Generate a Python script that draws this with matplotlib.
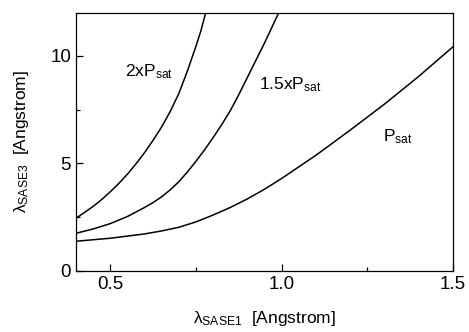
import matplotlib
matplotlib.use("Agg")
import matplotlib.pyplot as plt
from matplotlib.ticker import MultipleLocator

plt.rcParams['font.family'] = ['Liberation Sans', 'DejaVu Sans']
plt.rcParams['mathtext.fontset'] = 'custom'
plt.rcParams['mathtext.rm'] = 'Liberation Sans'
plt.rcParams['mathtext.it'] = 'Liberation Sans:italic'

# curves (lambda_SASE1 -> lambda_SASE3, Angstrom)
x_2p = [0.40, 0.425, 0.45, 0.475, 0.50, 0.525, 0.55, 0.575, 0.60, 0.625,
        0.65, 0.675, 0.70, 0.725, 0.75, 0.765, 0.78]
y_2p = [2.45, 2.72, 3.00, 3.32, 3.68, 4.07, 4.50, 4.98, 5.50, 6.08,
        6.70, 7.42, 8.25, 9.30, 10.45, 11.2, 12.1]

x_15p = [0.40, 0.45, 0.50, 0.55, 0.60, 0.625, 0.65, 0.675, 0.70, 0.725, 0.75,
         0.775, 0.80, 0.825, 0.85, 0.875, 0.90, 0.925, 0.95, 0.975, 1.00]
y_15p = [1.75, 1.95, 2.20, 2.53, 2.95, 3.18, 3.45, 3.77, 4.15, 4.60, 5.10,
         5.63, 6.20, 6.80, 7.45, 8.20, 9.00, 9.80, 10.6, 11.45, 12.3]

x_p = [0.40, 0.50, 0.60, 0.65, 0.70, 0.75, 0.80, 0.85, 0.90, 0.95, 1.00,
       1.10, 1.20, 1.30, 1.40, 1.50]
y_p = [1.38, 1.52, 1.72, 1.86, 2.03, 2.28, 2.60, 2.95, 3.35, 3.80, 4.30,
       5.38, 6.55, 7.76, 9.05, 10.43]

fig = plt.figure(figsize=(4.69, 3.32), dpi=100)
ax = fig.add_axes([0.162, 0.184, 0.804, 0.777])

for xs, ys in [(x_2p, y_2p), (x_15p, y_15p), (x_p, y_p)]:
    ax.plot(xs, ys, color='black', linewidth=1.1)

ax.set_xlim(0.4, 1.5)
ax.set_ylim(0, 12)
ax.xaxis.set_minor_locator(MultipleLocator(0.25))
ax.yaxis.set_minor_locator(MultipleLocator(2.5))
ax.set_xticks([0.5, 1.0, 1.5])
ax.set_xticklabels(['0.5', '1.0', '1.5'])
ax.set_yticks([0, 5, 10])
ax.set_yticklabels(['0', '5', '10'])
ax.tick_params(which='both', direction='in', labelsize=13.5, width=0.9)
ax.tick_params(which='major', length=5)
ax.tick_params(which='minor', length=3)
for s in ax.spines.values():
    s.set_linewidth(0.9)

ax.text(0.543, 9.27, '2xP$_{\\rm sat}$', fontsize=12.5, va='center')
ax.text(0.934, 8.65, '1.5xP$_{\\rm sat}$', fontsize=12.5, va='center')
ax.text(1.296, 6.25, 'P$_{\\rm sat}$', fontsize=12.5, va='center')

ax.set_xlabel('λ$_{\\rm SASE1}$  [Angstrom]', fontsize=12.5, labelpad=12)
ax.set_ylabel('λ$_{\\rm SASE3}$  [Angstrom]', fontsize=12.5, labelpad=14)

fig.savefig('out.png', dpi=100)
